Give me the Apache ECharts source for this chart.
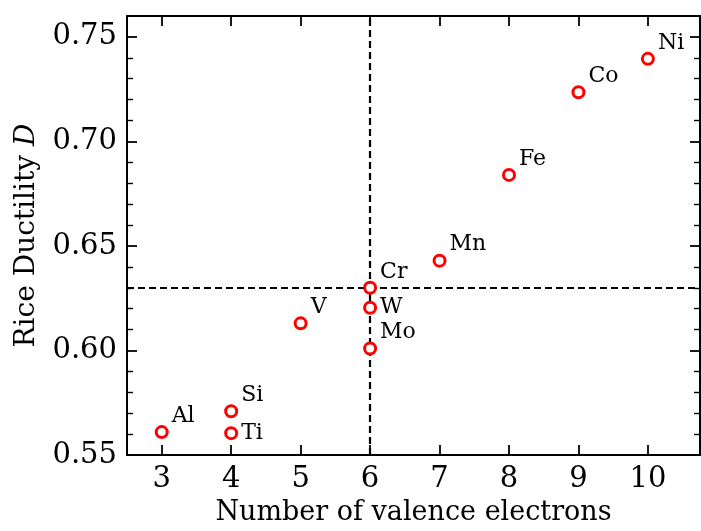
<!DOCTYPE html>
<html><head><meta charset="utf-8">
<script src="https://cdn.jsdelivr.net/npm/echarts@6/dist/echarts.min.js"></script>
<style>html,body{margin:0;padding:0;background:#fff}#c{width:701px;height:531px}</style>
</head><body><div id="c"></div>
<script>
const elements = ['Al','Si','Ti','V','Cr','W','Mo','Mn','Fe','Co','Ni'];
const valence = [3,4,4,5,6,6,6,7,8,9,10];
const ductility = [0.561,0.571,0.5605,0.613,0.630,0.6205,0.601,0.643,0.684,0.7235,0.7395];
const labelSide = ['up','up','right','up','up','right','up','up','up','up','up'];
const xTicks = [3,4,5,6,7,8,9,10];
const yTicks = [0.55,0.60,0.65,0.70,0.75];
const vLine = 6;
const hLine = 0.630;

const font = 'DejaVu Serif';
const chart = echarts.init(document.getElementById('c'));
const data = elements.map((e,i)=>({
  value:[valence[i], ductility[i], e],
  label:{offset: labelSide[i]==='up' ? [0,-16] : [0,0]}
}));
const axisCommon = {
  axisLine:{show:true,lineStyle:{color:'#000',width:2}},
  splitLine:{show:false}
};
const majorTick = {inside:true,length:10,lineStyle:{width:1.8,color:'#000'}};
const minorTick = {show:true,splitNumber:5,length:6,lineStyle:{width:1.4,color:'#000'}};
chart.setOption({
  animation:false,
  grid:{left:127,top:16,right:1,bottom:71},
  xAxis:[{
    ...axisCommon, type:'value', min:2.5, max:10.75, interval:1,
    axisTick:{...majorTick,customValues:xTicks},
    axisLabel:{fontFamily:font,fontSize:29,color:'#000',margin:10,customValues:xTicks},
    name:'Number of valence electrons', nameLocation:'middle', nameGap:43,
    nameTextStyle:{fontFamily:font,fontSize:27,color:'#000'}
  },{
    ...axisCommon, type:'value', position:'top', min:2.5, max:10.75,
    axisTick:{...majorTick,customValues:xTicks},
    axisLabel:{show:false}
  }],
  yAxis:[{
    ...axisCommon, type:'value', min:0.55, max:0.76, interval:0.05,
    axisTick:{...majorTick,customValues:yTicks},
    minorTick:minorTick,
    axisLabel:{fontFamily:font,fontSize:29,color:'#000',margin:10,customValues:yTicks,
      formatter:v=>v.toFixed(2)},
    name:'Rice Ductility {i|D}', nameLocation:'middle', nameGap:86,
    nameTextStyle:{fontFamily:font,fontSize:28,color:'#000',
      rich:{i:{fontFamily:font,fontStyle:'italic',fontSize:28,color:'#000'}}}
  },{
    ...axisCommon, type:'value', position:'right', min:0.55, max:0.76, interval:0.05,
    axisTick:{...majorTick,customValues:yTicks},
    minorTick:minorTick,
    axisLabel:{show:false}
  }],
  series:[{
    type:'scatter', data:data, symbol:'circle', symbolSize:11,
    itemStyle:{color:'#fff',borderColor:'#ff0000',borderWidth:3,opacity:1},
    label:{show:true,position:'right',distance:3,formatter:p=>p.value[2],
      fontFamily:font,fontSize:22,color:'#000',verticalAlign:'middle'},
    markLine:{silent:true,symbol:'none',label:{show:false},z:1,
      lineStyle:{color:'#000',type:[7,4],width:2.2,opacity:1},
      data:[{xAxis:vLine},{yAxis:hLine}]},
    z:3
  }]
});
</script></body></html>
